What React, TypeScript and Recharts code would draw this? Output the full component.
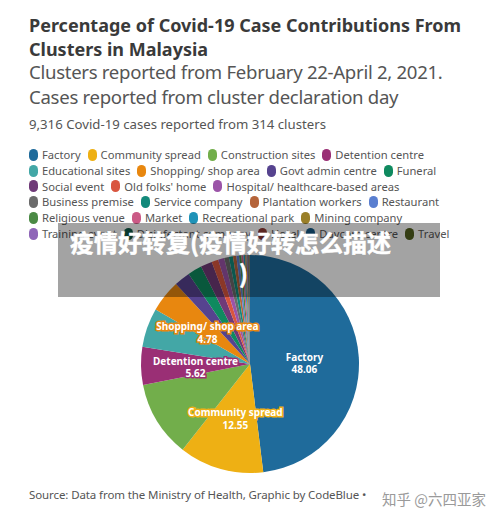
import React from "react";
import { PieChart, Pie, Cell, Legend } from "recharts";

const clusters = [
  "Factory", "Community spread", "Construction sites", "Detention centre",
  "Educational sites", "Shopping/ shop area", "Govt admin centre", "Funeral",
  "Social event", "Old folks' home", "Hospital/ healthcare-based areas",
  "Business premise", "Service company", "Plantation workers", "Restaurant",
  "Religious venue", "Market", "Recreational park", "Mining company",
  "Training event", "Disinfectant company", "Hotel", "Daycare centre", "Travel",
];
// only the four labelled values are printed on the graphic, the rest are estimated from slice angles
const shares = [
  48.06, 12.55, 11.3, 5.62, 5.8, 4.78, 2.38, 2.1, 1.7, 1.0, 0.9, 0.7,
  0.6, 0.5, 0.4, 0.35, 0.3, 0.25, 0.2, 0.15, 0.12, 0.1, 0.08, 0.06,
];
const colors = [
  "#1f6b9b", "#eeb014", "#72ae4b", "#9a2f75", "#43a7a6", "#e8870f",
  "#56438f", "#0f8a5f", "#6f3a78", "#d9563f", "#9b54a8", "#6b6b6b",
  "#12897b", "#b5643a", "#5a7fd0", "#4b8a45", "#cb5a86", "#1f93b8",
  "#9a7f28", "#8f66b8", "#0f5a48", "#8f3a35", "#175a85", "#52601f",
];
const labelled = ["Factory", "Community spread", "Detention centre", "Shopping/ shop area"];
const rowSizes = [4, 4, 3, 4, 4, 5];

const FONT = "'Noto Sans', sans-serif";
const CJK = "'Noto Sans CJK SC', sans-serif";
const chartData = clusters.map((name, i) => ({ name, value: shares[i] }));

function SliceLabel(props: any) {
  const { cx, cy, midAngle, outerRadius, name, value, index } = props;
  if (!labelled.includes(name)) return null;
  const rad = (midAngle * Math.PI) / 180;
  const x = cx + outerRadius * 0.5 * Math.cos(rad);
  const y = cy - outerRadius * 0.5 * Math.sin(rad);
  const halo = name === "Factory" ? "none" : colors[index];
  return (
    <text
      x={x}
      y={y}
      textAnchor="middle"
      fill="#fff"
      stroke={halo}
      strokeWidth={3}
      paintOrder="stroke"
      fontFamily={FONT}
      fontSize={10}
      fontWeight={700}
    >
      <tspan x={x} dy={0}>{name}</tspan>
      <tspan x={x} dy={12.5}>{value.toFixed(2)}</tspan>
    </text>
  );
}

function ClusterLegend() {
  let start = 0;
  const rows = rowSizes.map((size) => {
    const row = clusters.slice(start, start + size).map((name, i) => ({ name, color: colors[start + i] }));
    start += size;
    return row;
  });
  return (
    <div style={{ fontFamily: FONT, fontSize: 11.2, color: "#555", lineHeight: "15.8px" }}>
      {rows.map((row, r) => (
        <div key={r} style={{ display: "flex", whiteSpace: "nowrap", height: 15.8, alignItems: "center" }}>
          {row.map((item) => (
            <span key={item.name} style={{ display: "flex", alignItems: "center", marginRight: 7 }}>
              <span style={{ width: 9, height: 12, borderRadius: 4.5, background: item.color, marginRight: 4 }} />
              {item.name}
            </span>
          ))}
        </div>
      ))}
    </div>
  );
}

export default function App() {
  const line = (top: number, size: number, text: string, bold = false, color = "#555", spacing = 0) => (
    <div
      style={{
        position: "absolute", left: 29, top, fontSize: size, fontWeight: bold ? 700 : 400,
        color, lineHeight: "24px", whiteSpace: "nowrap", fontFamily: FONT, letterSpacing: spacing,
      }}
    >
      {text}
    </div>
  );
  return (
    <div style={{ position: "absolute", left: 0, top: 0, width: 500, height: 521, background: "#fff", overflow: "hidden" }}>
      {line(13, 18, "Percentage of Covid-19 Case Contributions From", true, "#3a3a3a")}
      {line(37, 18, "Clusters in Malaysia", true, "#3a3a3a")}
      {line(60, 18.6, "Clusters reported from February 22-April 2, 2021.", false, "#555", -0.3)}
      {line(85, 18.6, "Cases reported from cluster declaration day", false, "#555", -0.3)}
      {line(112, 13.2, "9,316 Covid-19 cases reported from 314 clusters")}

      <div style={{ position: "absolute", left: 0, top: 0 }}>
        <PieChart width={500} height={521} margin={{ top: 0, right: 0, bottom: 0, left: 0 }}>
          <Legend content={<ClusterLegend />} wrapperStyle={{ position: "absolute", left: 29, top: 147, width: 450, bottom: "auto" }} />
          <Pie
            data={chartData}
            dataKey="value"
            nameKey="name"
            cx={250}
            cy={364}
            outerRadius={109}
            startAngle={90}
            endAngle={-270}
            stroke="none"
            label={SliceLabel}
            labelLine={false}
            isAnimationActive={false}
          >
            {chartData.map((d, i) => (
              <Cell key={d.name} fill={colors[i]} />
            ))}
          </Pie>
        </PieChart>
      </div>

      {line(483, 11.5, "Source: Data from the Ministry of Health, Graphic by CodeBlue •", false, "#555", -0.1)}
      <div style={{ position: "absolute", left: 382, top: 488, fontFamily: CJK, fontSize: 14.5, color: "#9a9a9a", whiteSpace: "nowrap" }}>
        知乎 @六四亚家
      </div>

      <div style={{ position: "absolute", left: 58, top: 223, width: 382, height: 74, background: "rgba(0,0,0,0.36)" }}>
        <div style={{ position: "absolute", left: 12, top: 2, fontFamily: CJK, fontSize: 24, fontWeight: 700, color: "#fff", whiteSpace: "nowrap", lineHeight: "34px", WebkitTextStroke: "0.5px #fff" }}>
          疫情好转复(疫情好转怎么描述
        </div>
        <div style={{ position: "absolute", left: 181, top: 33, fontFamily: CJK, fontSize: 24, fontWeight: 700, color: "#fff", lineHeight: "34px", WebkitTextStroke: "0.5px #fff" }}>
          )
        </div>
      </div>
    </div>
  );
}
